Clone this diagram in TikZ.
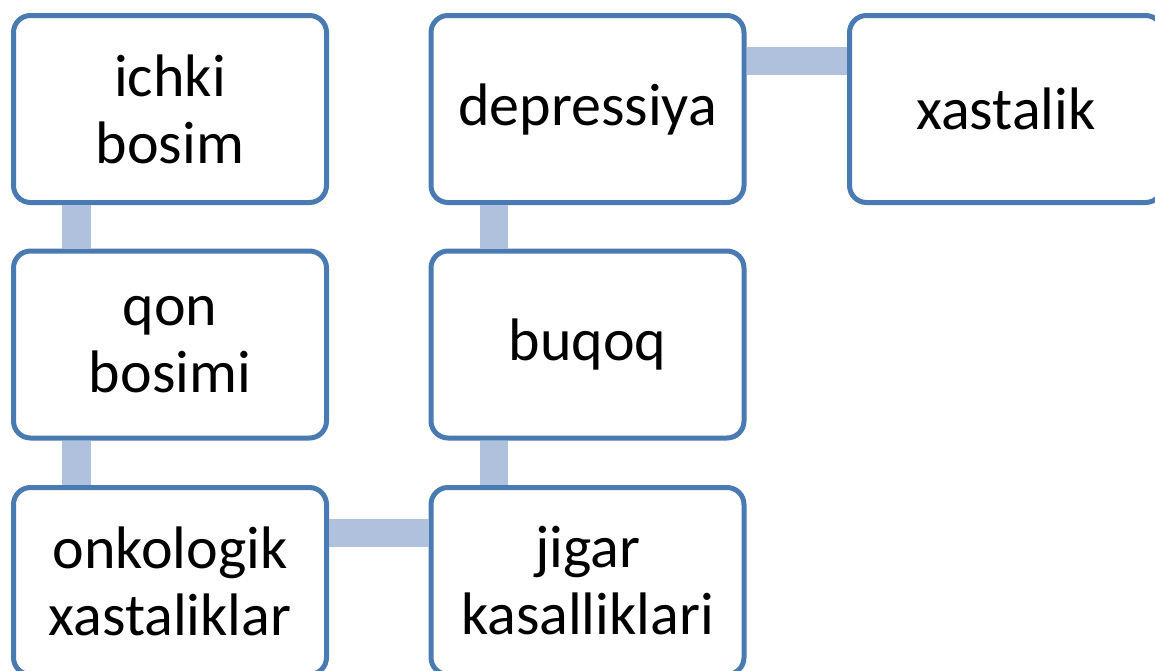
\documentclass[tikz,border=0pt]{standalone}
\usepackage{fontspec}
\setmainfont{Carlito}
\usepackage{xcolor}
\definecolor{boxline}{RGB}{74,122,178}
\definecolor{linkfill}{RGB}{176,193,221}

\begin{document}
\begin{tikzpicture}[x=1pt,y=-1pt,
    box/.style={draw=boxline,line width=5pt,fill=white,rounded corners=17pt,
      minimum width=313pt,minimum height=187pt,inner sep=0pt,align=center,
      font=\fontsize{60}{67}\selectfont},
    link/.style={draw=linkfill,line width=28.5pt}]
    \useasboundingbox (0,0) rectangle (1155,670);
    \node[box] (ichki) at (170,109) {ichki\\bosim};
    \node[box] (qon) at (170,344.5) {qon\\bosimi};
    \node[box] (onko) at (170,581) {onkologik\\xastaliklar};
    \node[box] (jigar) at (587.5,581) {jigar\\kasalliklari};
    \node[box] (buqoq) at (587.5,344.5) {buqoq};
    \node[box] (depr) at (587.5,109) {depressiya};
    \node[box] (xast) at (1006,109) {xastalik};
    \draw[link] ([xshift=-93.5pt]ichki.south) -- ([xshift=-93.5pt]qon.north);
    \draw[link] ([xshift=-93.5pt]qon.south) -- ([xshift=-93.5pt]onko.north);
    \draw[link] ([yshift=48pt]onko.east) -- ([yshift=48pt]jigar.west);
    \draw[link] ([xshift=-93.5pt]jigar.north) -- ([xshift=-93.5pt]buqoq.south);
    \draw[link] ([xshift=-93.5pt]buqoq.north) -- ([xshift=-93.5pt]depr.south);
    \draw[link] ([yshift=48pt]depr.east) -- ([yshift=48pt]xast.west);
\end{tikzpicture}
\end{document}
